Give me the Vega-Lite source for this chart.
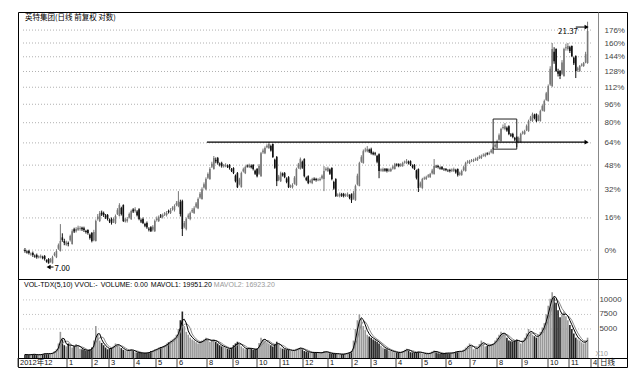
{
"$schema":"https://vega.github.io/schema/vega-lite/v6.json",
"padding":{"left":17,"top":11,"right":0,"bottom":0},
"background":"white",
"spacing":0,
"bounds":"flush",
"datasets":{
"k":[
{"t":2,"o":7.45,"h":7.52,"l":7.36,"c":7.42,"v":600},
{"t":6,"o":7.42,"h":7.46,"l":7.30,"c":7.35,"v":500},
{"t":10,"o":7.35,"h":7.40,"l":7.22,"c":7.28,"v":700},
{"t":14,"o":7.28,"h":7.33,"l":7.16,"c":7.21,"v":500},
{"t":18,"o":7.21,"h":7.30,"l":7.17,"c":7.25,"v":600},
{"t":22,"o":7.25,"h":7.28,"l":7.10,"c":7.15,"v":800},
{"t":26,"o":7.15,"h":7.18,"l":7.00,"c":7.01,"v":700},
{"t":30,"o":7.01,"h":7.26,"l":7.00,"c":7.21,"v":900},
{"t":34,"o":7.21,"h":7.48,"l":7.18,"c":7.42,"v":1500},
{"t":38,"o":7.42,"h":8.40,"l":7.40,"c":7.77,"v":4500},
{"t":42,"o":7.77,"h":7.85,"l":7.62,"c":7.70,"v":2200},
{"t":46,"o":7.70,"h":7.75,"l":7.58,"c":7.66,"v":2500},
{"t":50,"o":7.66,"h":8.20,"l":7.64,"c":8.13,"v":1800},
{"t":54,"o":8.13,"h":8.28,"l":8.08,"c":8.21,"v":2400},
{"t":58,"o":8.21,"h":8.32,"l":8.15,"c":8.24,"v":1600},
{"t":62,"o":8.24,"h":8.30,"l":8.10,"c":8.17,"v":1400},
{"t":66,"o":8.17,"h":8.20,"l":8.00,"c":8.06,"v":1200},
{"t":70,"o":8.06,"h":8.10,"l":7.72,"c":7.77,"v":1800},
{"t":74,"o":7.77,"h":8.58,"l":7.75,"c":8.52,"v":5500},
{"t":78,"o":8.52,"h":8.92,"l":8.48,"c":8.84,"v":3000},
{"t":82,"o":8.84,"h":8.90,"l":8.68,"c":8.76,"v":2200},
{"t":86,"o":8.76,"h":8.80,"l":8.54,"c":8.60,"v":1500},
{"t":90,"o":8.60,"h":8.66,"l":8.38,"c":8.44,"v":1800},
{"t":94,"o":8.44,"h":8.78,"l":8.40,"c":8.72,"v":2500},
{"t":98,"o":8.72,"h":9.25,"l":8.70,"c":9.17,"v":2000},
{"t":102,"o":9.17,"h":9.20,"l":8.48,"c":8.52,"v":1400},
{"t":106,"o":8.52,"h":8.68,"l":8.46,"c":8.60,"v":1200},
{"t":110,"o":8.60,"h":8.98,"l":8.56,"c":8.92,"v":1500},
{"t":114,"o":8.92,"h":9.08,"l":8.86,"c":9.00,"v":1000},
{"t":118,"o":9.00,"h":9.04,"l":8.55,"c":8.60,"v":900},
{"t":122,"o":8.60,"h":8.66,"l":8.40,"c":8.44,"v":800},
{"t":126,"o":8.44,"h":8.50,"l":8.22,"c":8.28,"v":900},
{"t":130,"o":8.28,"h":8.32,"l":8.10,"c":8.13,"v":1200},
{"t":134,"o":8.13,"h":8.58,"l":8.10,"c":8.52,"v":1500},
{"t":138,"o":8.52,"h":8.74,"l":8.48,"c":8.68,"v":1800},
{"t":142,"o":8.68,"h":8.82,"l":8.62,"c":8.76,"v":2000},
{"t":146,"o":8.76,"h":8.92,"l":8.70,"c":8.84,"v":2500},
{"t":150,"o":8.84,"h":9.04,"l":8.80,"c":8.96,"v":3000},
{"t":154,"o":8.96,"h":9.20,"l":8.90,"c":9.13,"v":3500},
{"t":158,"o":9.13,"h":9.78,"l":9.08,"c":9.34,"v":5000},
{"t":162,"o":9.34,"h":9.40,"l":7.95,"c":8.21,"v":8000},
{"t":166,"o":8.21,"h":8.66,"l":8.16,"c":8.60,"v":4500},
{"t":170,"o":8.60,"h":8.90,"l":8.55,"c":8.84,"v":3500},
{"t":174,"o":8.84,"h":9.12,"l":8.80,"c":9.04,"v":3000},
{"t":178,"o":9.04,"h":9.50,"l":9.00,"c":9.43,"v":2500},
{"t":182,"o":9.43,"h":9.95,"l":9.40,"c":9.87,"v":3000},
{"t":186,"o":9.87,"h":10.42,"l":9.82,"c":10.34,"v":3500},
{"t":190,"o":10.34,"h":10.92,"l":10.30,"c":10.83,"v":2800},
{"t":194,"o":10.83,"h":11.50,"l":10.80,"c":11.39,"v":3200},
{"t":198,"o":11.39,"h":11.45,"l":11.05,"c":11.13,"v":2500},
{"t":202,"o":11.13,"h":11.20,"l":10.90,"c":10.98,"v":2000},
{"t":206,"o":10.98,"h":11.12,"l":10.92,"c":11.03,"v":1800},
{"t":210,"o":11.03,"h":11.08,"l":10.80,"c":10.88,"v":1500},
{"t":214,"o":10.88,"h":10.92,"l":10.58,"c":10.63,"v":2200},
{"t":218,"o":10.63,"h":10.68,"l":9.92,"c":9.96,"v":2800},
{"t":222,"o":9.96,"h":10.70,"l":9.94,"c":10.63,"v":2000},
{"t":226,"o":10.63,"h":11.00,"l":10.58,"c":10.93,"v":1500},
{"t":230,"o":10.93,"h":11.10,"l":10.88,"c":11.03,"v":1800},
{"t":234,"o":11.03,"h":11.08,"l":10.76,"c":10.83,"v":1400},
{"t":238,"o":10.83,"h":10.88,"l":10.42,"c":10.48,"v":1600},
{"t":242,"o":10.48,"h":11.72,"l":10.45,"c":11.65,"v":3500},
{"t":246,"o":11.65,"h":12.02,"l":11.60,"c":11.93,"v":3000},
{"t":250,"o":11.93,"h":12.26,"l":11.88,"c":12.15,"v":2500},
{"t":254,"o":12.15,"h":12.18,"l":11.40,"c":11.45,"v":2000},
{"t":258,"o":11.45,"h":11.50,"l":10.01,"c":10.24,"v":2800},
{"t":262,"o":10.24,"h":10.70,"l":10.20,"c":10.63,"v":1800},
{"t":266,"o":10.63,"h":10.68,"l":10.38,"c":10.43,"v":1500},
{"t":270,"o":10.43,"h":10.48,"l":9.92,"c":9.96,"v":1400},
{"t":274,"o":9.96,"h":10.14,"l":9.90,"c":10.06,"v":1200},
{"t":278,"o":10.06,"h":10.90,"l":10.02,"c":10.83,"v":1600},
{"t":282,"o":10.83,"h":11.42,"l":10.80,"c":11.34,"v":1800},
{"t":286,"o":11.34,"h":11.38,"l":10.42,"c":10.48,"v":1200},
{"t":290,"o":10.48,"h":10.52,"l":10.10,"c":10.15,"v":1000},
{"t":294,"o":10.15,"h":10.40,"l":10.10,"c":10.34,"v":900},
{"t":298,"o":10.34,"h":10.40,"l":10.22,"c":10.29,"v":1000},
{"t":302,"o":10.29,"h":10.42,"l":10.24,"c":10.34,"v":800},
{"t":306,"o":10.34,"h":10.98,"l":9.78,"c":10.73,"v":1200},
{"t":310,"o":10.73,"h":10.95,"l":10.68,"c":10.88,"v":900},
{"t":314,"o":10.88,"h":10.92,"l":10.28,"c":10.34,"v":700},
{"t":318,"o":10.34,"h":10.38,"l":9.52,"c":9.56,"v":800},
{"t":322,"o":9.56,"h":9.72,"l":9.50,"c":9.65,"v":600},
{"t":326,"o":9.65,"h":9.70,"l":9.50,"c":9.56,"v":700},
{"t":330,"o":9.56,"h":9.72,"l":9.52,"c":9.65,"v":900},
{"t":334,"o":9.65,"h":9.68,"l":9.26,"c":9.38,"v":1200},
{"t":338,"o":9.38,"h":10.08,"l":9.35,"c":10.01,"v":5000},
{"t":342,"o":10.01,"h":11.20,"l":10.00,"c":11.13,"v":7500},
{"t":346,"o":11.13,"h":11.85,"l":11.10,"c":11.76,"v":5500},
{"t":350,"o":11.76,"h":12.04,"l":11.70,"c":11.87,"v":4000},
{"t":354,"o":11.87,"h":11.95,"l":11.58,"c":11.65,"v":3500},
{"t":358,"o":11.65,"h":11.72,"l":11.52,"c":11.60,"v":3000},
{"t":362,"o":11.60,"h":11.64,"l":10.38,"c":10.73,"v":2500},
{"t":366,"o":10.73,"h":10.90,"l":10.68,"c":10.83,"v":1800},
{"t":370,"o":10.83,"h":10.88,"l":10.66,"c":10.73,"v":1500},
{"t":374,"o":10.73,"h":10.90,"l":10.68,"c":10.83,"v":1200},
{"t":378,"o":10.83,"h":11.14,"l":10.80,"c":11.08,"v":1000},
{"t":382,"o":11.08,"h":11.12,"l":10.92,"c":10.98,"v":900},
{"t":386,"o":10.98,"h":11.20,"l":10.94,"c":11.13,"v":1200},
{"t":390,"o":11.13,"h":11.34,"l":11.08,"c":11.23,"v":1600},
{"t":394,"o":11.23,"h":11.27,"l":10.98,"c":11.03,"v":1000},
{"t":398,"o":11.03,"h":11.08,"l":10.78,"c":10.83,"v":900},
{"t":402,"o":10.83,"h":10.86,"l":9.74,"c":9.92,"v":1100},
{"t":406,"o":9.92,"h":10.40,"l":9.88,"c":10.34,"v":800},
{"t":410,"o":10.34,"h":10.50,"l":10.30,"c":10.43,"v":700},
{"t":414,"o":10.43,"h":10.64,"l":10.40,"c":10.58,"v":900},
{"t":418,"o":10.58,"h":11.34,"l":10.55,"c":10.98,"v":1300},
{"t":422,"o":10.98,"h":11.04,"l":10.86,"c":10.93,"v":800},
{"t":426,"o":10.93,"h":10.98,"l":10.78,"c":10.83,"v":700},
{"t":430,"o":10.83,"h":10.88,"l":10.72,"c":10.78,"v":900},
{"t":434,"o":10.78,"h":10.84,"l":10.66,"c":10.73,"v":800},
{"t":438,"o":10.73,"h":10.90,"l":10.68,"c":10.83,"v":1000},
{"t":442,"o":10.83,"h":10.86,"l":10.46,"c":10.53,"v":1200},
{"t":446,"o":10.53,"h":10.80,"l":10.50,"c":10.73,"v":1100},
{"t":450,"o":10.73,"h":11.20,"l":10.70,"c":11.13,"v":1800},
{"t":454,"o":11.13,"h":11.30,"l":11.08,"c":11.23,"v":2500},
{"t":458,"o":11.23,"h":11.36,"l":11.18,"c":11.28,"v":1500},
{"t":462,"o":11.28,"h":11.46,"l":11.24,"c":11.39,"v":1800},
{"t":466,"o":11.39,"h":11.58,"l":11.34,"c":11.50,"v":3000},
{"t":470,"o":11.50,"h":11.68,"l":11.44,"c":11.60,"v":2000},
{"t":474,"o":11.60,"h":11.74,"l":11.55,"c":11.65,"v":2200},
{"t":478,"o":11.65,"h":12.00,"l":11.60,"c":11.93,"v":2500},
{"t":482,"o":11.93,"h":12.40,"l":11.90,"c":12.32,"v":3500},
{"t":486,"o":12.32,"h":13.10,"l":12.28,"c":13.02,"v":4500},
{"t":490,"o":13.02,"h":13.39,"l":12.95,"c":13.20,"v":4000},
{"t":494,"o":13.20,"h":13.25,"l":12.66,"c":12.73,"v":3000},
{"t":498,"o":12.73,"h":12.80,"l":12.48,"c":12.55,"v":2800},
{"t":502,"o":12.55,"h":12.60,"l":11.98,"c":12.26,"v":3200},
{"t":506,"o":12.26,"h":12.80,"l":12.22,"c":12.73,"v":2500},
{"t":510,"o":12.73,"h":12.98,"l":12.68,"c":12.90,"v":3500},
{"t":514,"o":12.90,"h":13.60,"l":12.86,"c":13.51,"v":5000},
{"t":518,"o":13.51,"h":14.05,"l":13.46,"c":13.96,"v":4000},
{"t":522,"o":13.96,"h":14.00,"l":13.44,"c":13.51,"v":3500},
{"t":526,"o":13.51,"h":14.24,"l":13.48,"c":14.15,"v":4500},
{"t":530,"o":14.15,"h":14.92,"l":14.10,"c":14.82,"v":6000},
{"t":534,"o":14.82,"h":16.00,"l":14.78,"c":15.88,"v":9000},
{"t":538,"o":15.88,"h":19.37,"l":15.80,"c":18.84,"v":11300},
{"t":542,"o":18.84,"h":18.90,"l":16.95,"c":17.02,"v":9500},
{"t":546,"o":17.02,"h":17.10,"l":16.40,"c":16.63,"v":7000},
{"t":550,"o":16.63,"h":18.95,"l":16.58,"c":18.84,"v":8000},
{"t":554,"o":18.84,"h":19.37,"l":18.70,"c":19.10,"v":6500},
{"t":558,"o":19.10,"h":19.15,"l":18.15,"c":18.24,"v":5000},
{"t":562,"o":18.24,"h":18.30,"l":16.48,"c":17.02,"v":3500},
{"t":566,"o":17.02,"h":17.50,"l":16.95,"c":17.42,"v":3000},
{"t":570,"o":17.42,"h":17.75,"l":17.35,"c":17.66,"v":2500},
{"t":574,"o":17.66,"h":21.37,"l":17.60,"c":20.47,"v":3500},
{"t":4,"o":7.40,"h":7.44,"l":7.33,"c":7.37,"v":550},
{"t":8,"o":7.30,"h":7.37,"l":7.26,"c":7.33,"v":650},
{"t":12,"o":7.26,"h":7.30,"l":7.19,"c":7.23,"v":550},
{"t":16,"o":7.20,"h":7.27,"l":7.17,"c":7.24,"v":600},
{"t":20,"o":7.22,"h":7.26,"l":7.14,"c":7.18,"v":700},
{"t":24,"o":7.12,"h":7.14,"l":7.03,"c":7.06,"v":750},
{"t":28,"o":7.06,"h":7.18,"l":7.03,"c":7.14,"v":800},
{"t":32,"o":7.28,"h":7.38,"l":7.24,"c":7.33,"v":1200},
{"t":36,"o":7.50,"h":7.68,"l":7.46,"c":7.62,"v":2500},
{"t":40,"o":7.90,"h":8.05,"l":7.74,"c":7.80,"v":3200},
{"t":44,"o":7.64,"h":7.78,"l":7.60,"c":7.72,"v":2000},
{"t":48,"o":7.80,"h":8.00,"l":7.75,"c":7.95,"v":2200},
{"t":52,"o":8.20,"h":8.26,"l":8.06,"c":8.12,"v":2000},
{"t":56,"o":8.18,"h":8.34,"l":8.14,"c":8.26,"v":2000},
{"t":60,"o":8.26,"h":8.30,"l":8.14,"c":8.20,"v":1500},
{"t":64,"o":8.14,"h":8.18,"l":8.04,"c":8.10,"v":1300},
{"t":68,"o":8.00,"h":8.04,"l":7.82,"c":7.88,"v":1500},
{"t":72,"o":7.80,"h":8.18,"l":7.76,"c":8.10,"v":3000},
{"t":76,"o":8.60,"h":8.80,"l":8.54,"c":8.70,"v":4000},
{"t":80,"o":8.86,"h":8.94,"l":8.72,"c":8.78,"v":2600},
{"t":84,"o":8.74,"h":8.80,"l":8.60,"c":8.66,"v":1800},
{"t":88,"o":8.56,"h":8.62,"l":8.44,"c":8.50,"v":1600},
{"t":92,"o":8.50,"h":8.66,"l":8.44,"c":8.60,"v":2100},
{"t":96,"o":8.80,"h":9.04,"l":8.76,"c":8.96,"v":2300},
{"t":100,"o":9.05,"h":9.10,"l":8.74,"c":8.80,"v":1700},
{"t":104,"o":8.50,"h":8.64,"l":8.46,"c":8.58,"v":1300},
{"t":108,"o":8.66,"h":8.86,"l":8.62,"c":8.80,"v":1400},
{"t":112,"o":8.98,"h":9.04,"l":8.84,"c":8.90,"v":1200},
{"t":116,"o":8.90,"h":8.96,"l":8.70,"c":8.75,"v":950},
{"t":120,"o":8.55,"h":8.62,"l":8.44,"c":8.50,"v":850},
{"t":124,"o":8.40,"h":8.45,"l":8.28,"c":8.34,"v":850},
{"t":128,"o":8.22,"h":8.28,"l":8.12,"c":8.18,"v":1000},
{"t":132,"o":8.18,"h":8.36,"l":8.12,"c":8.30,"v":1300},
{"t":136,"o":8.56,"h":8.70,"l":8.50,"c":8.62,"v":1600},
{"t":140,"o":8.74,"h":8.80,"l":8.64,"c":8.70,"v":1900},
{"t":144,"o":8.78,"h":8.88,"l":8.72,"c":8.82,"v":2200},
{"t":148,"o":8.92,"h":8.98,"l":8.82,"c":8.88,"v":2700},
{"t":152,"o":9.00,"h":9.12,"l":8.94,"c":9.06,"v":3200},
{"t":156,"o":9.18,"h":9.34,"l":9.12,"c":9.26,"v":4000},
{"t":160,"o":9.30,"h":9.40,"l":8.70,"c":8.80,"v":6500},
{"t":164,"o":8.30,"h":8.52,"l":8.24,"c":8.44,"v":5500},
{"t":168,"o":8.66,"h":8.82,"l":8.60,"c":8.74,"v":4000},
{"t":172,"o":8.90,"h":9.04,"l":8.84,"c":8.96,"v":3200},
{"t":176,"o":9.10,"h":9.30,"l":9.04,"c":9.24,"v":2700},
{"t":180,"o":9.50,"h":9.74,"l":9.44,"c":9.66,"v":2800},
{"t":184,"o":9.95,"h":10.18,"l":9.90,"c":10.10,"v":3200},
{"t":188,"o":10.40,"h":10.66,"l":10.34,"c":10.58,"v":3100},
{"t":192,"o":10.95,"h":11.20,"l":10.88,"c":11.10,"v":3000},
{"t":196,"o":11.30,"h":11.42,"l":11.12,"c":11.22,"v":2800},
{"t":200,"o":11.10,"h":11.16,"l":10.96,"c":11.05,"v":2200},
{"t":204,"o":10.96,"h":11.08,"l":10.90,"c":11.02,"v":1900},
{"t":208,"o":11.00,"h":11.06,"l":10.88,"c":10.94,"v":1600},
{"t":212,"o":10.82,"h":10.88,"l":10.68,"c":10.74,"v":1800},
{"t":216,"o":10.50,"h":10.56,"l":10.18,"c":10.24,"v":2500},
{"t":220,"o":10.10,"h":10.40,"l":10.04,"c":10.32,"v":2400},
{"t":224,"o":10.72,"h":10.90,"l":10.66,"c":10.82,"v":1700},
{"t":228,"o":11.00,"h":11.06,"l":10.90,"c":10.96,"v":1600},
{"t":232,"o":11.00,"h":11.06,"l":10.86,"c":10.92,"v":1600},
{"t":236,"o":10.74,"h":10.80,"l":10.54,"c":10.60,"v":1500},
{"t":240,"o":10.60,"h":11.08,"l":10.54,"c":11.00,"v":2600},
{"t":244,"o":11.70,"h":11.90,"l":11.62,"c":11.80,"v":3200},
{"t":248,"o":11.98,"h":12.14,"l":11.92,"c":12.06,"v":2700},
{"t":252,"o":12.05,"h":12.12,"l":11.74,"c":11.80,"v":2200},
{"t":256,"o":11.30,"h":11.36,"l":10.84,"c":10.90,"v":2400},
{"t":260,"o":10.30,"h":10.54,"l":10.24,"c":10.46,"v":2300},
{"t":264,"o":10.60,"h":10.66,"l":10.46,"c":10.52,"v":1600},
{"t":268,"o":10.36,"h":10.42,"l":10.14,"c":10.20,"v":1450},
{"t":272,"o":9.98,"h":10.08,"l":9.92,"c":10.02,"v":1300},
{"t":276,"o":10.12,"h":10.48,"l":10.08,"c":10.40,"v":1400},
{"t":280,"o":10.90,"h":11.14,"l":10.84,"c":11.06,"v":1700},
{"t":284,"o":11.20,"h":11.26,"l":10.84,"c":10.90,"v":1500},
{"t":288,"o":10.40,"h":10.46,"l":10.24,"c":10.30,"v":1100},
{"t":292,"o":10.20,"h":10.32,"l":10.14,"c":10.26,"v":950},
{"t":296,"o":10.36,"h":10.42,"l":10.26,"c":10.30,"v":950},
{"t":300,"o":10.28,"h":10.38,"l":10.24,"c":10.32,"v":900},
{"t":304,"o":10.38,"h":10.56,"l":10.32,"c":10.50,"v":1000},
{"t":308,"o":10.78,"h":10.92,"l":10.72,"c":10.84,"v":1050},
{"t":312,"o":10.80,"h":10.86,"l":10.54,"c":10.60,"v":800},
{"t":316,"o":10.20,"h":10.26,"l":9.84,"c":9.90,"v":750},
{"t":320,"o":9.58,"h":9.68,"l":9.52,"c":9.62,"v":700},
{"t":324,"o":9.64,"h":9.70,"l":9.52,"c":9.58,"v":650},
{"t":328,"o":9.58,"h":9.68,"l":9.52,"c":9.62,"v":800},
{"t":332,"o":9.60,"h":9.64,"l":9.42,"c":9.48,"v":1000},
{"t":336,"o":9.45,"h":9.78,"l":9.40,"c":9.70,"v":3000},
{"t":340,"o":10.10,"h":10.60,"l":10.04,"c":10.50,"v":6500},
{"t":344,"o":11.20,"h":11.54,"l":11.14,"c":11.44,"v":6800},
{"t":348,"o":11.80,"h":11.95,"l":11.70,"c":11.84,"v":4800},
{"t":352,"o":11.84,"h":11.90,"l":11.66,"c":11.74,"v":3700},
{"t":356,"o":11.68,"h":11.74,"l":11.54,"c":11.60,"v":3200},
{"t":360,"o":11.50,"h":11.56,"l":11.12,"c":11.20,"v":2800},
{"t":364,"o":10.76,"h":10.86,"l":10.70,"c":10.80,"v":2100},
{"t":368,"o":10.82,"h":10.88,"l":10.70,"c":10.76,"v":1600},
{"t":372,"o":10.74,"h":10.86,"l":10.68,"c":10.80,"v":1300},
{"t":376,"o":10.86,"h":11.02,"l":10.80,"c":10.96,"v":1100},
{"t":380,"o":11.06,"h":11.12,"l":10.96,"c":11.02,"v":950},
{"t":384,"o":11.00,"h":11.12,"l":10.94,"c":11.06,"v":1000},
{"t":388,"o":11.16,"h":11.26,"l":11.10,"c":11.20,"v":1400},
{"t":392,"o":11.20,"h":11.26,"l":11.06,"c":11.12,"v":1300},
{"t":396,"o":11.00,"h":11.06,"l":10.86,"c":10.92,"v":950},
{"t":400,"o":10.76,"h":10.80,"l":10.32,"c":10.40,"v":1000},
{"t":404,"o":10.00,"h":10.22,"l":9.94,"c":10.14,"v":950},
{"t":408,"o":10.36,"h":10.46,"l":10.30,"c":10.40,"v":750},
{"t":412,"o":10.46,"h":10.58,"l":10.40,"c":10.52,"v":800},
{"t":416,"o":10.62,"h":10.84,"l":10.56,"c":10.76,"v":1100},
{"t":420,"o":10.96,"h":11.04,"l":10.88,"c":10.94,"v":1000},
{"t":424,"o":10.90,"h":10.96,"l":10.80,"c":10.86,"v":750},
{"t":428,"o":10.82,"h":10.88,"l":10.74,"c":10.80,"v":800},
{"t":432,"o":10.76,"h":10.82,"l":10.68,"c":10.74,"v":850},
{"t":436,"o":10.74,"h":10.86,"l":10.68,"c":10.80,"v":900},
{"t":440,"o":10.78,"h":10.84,"l":10.60,"c":10.66,"v":1100},
{"t":444,"o":10.56,"h":10.70,"l":10.50,"c":10.64,"v":1150},
{"t":448,"o":10.78,"h":11.00,"l":10.72,"c":10.92,"v":1450},
{"t":452,"o":11.16,"h":11.28,"l":11.10,"c":11.20,"v":2100},
{"t":456,"o":11.24,"h":11.34,"l":11.18,"c":11.26,"v":2000},
{"t":460,"o":11.30,"h":11.42,"l":11.24,"c":11.34,"v":1650},
{"t":464,"o":11.40,"h":11.54,"l":11.34,"c":11.46,"v":2400},
{"t":468,"o":11.52,"h":11.64,"l":11.46,"c":11.56,"v":2500},
{"t":472,"o":11.64,"h":11.70,"l":11.54,"c":11.60,"v":2100},
{"t":476,"o":11.70,"h":11.88,"l":11.64,"c":11.80,"v":2350},
{"t":480,"o":12.00,"h":12.20,"l":11.94,"c":12.12,"v":3000},
{"t":484,"o":12.40,"h":12.76,"l":12.34,"c":12.66,"v":4000},
{"t":488,"o":13.08,"h":13.30,"l":13.00,"c":13.14,"v":4250},
{"t":492,"o":13.10,"h":13.18,"l":12.86,"c":12.94,"v":3500},
{"t":496,"o":12.70,"h":12.78,"l":12.56,"c":12.62,"v":2900},
{"t":500,"o":12.50,"h":12.56,"l":12.32,"c":12.40,"v":3000},
{"t":504,"o":12.30,"h":12.58,"l":12.24,"c":12.50,"v":2850},
{"t":508,"o":12.76,"h":12.92,"l":12.70,"c":12.84,"v":3000},
{"t":512,"o":12.96,"h":13.30,"l":12.90,"c":13.20,"v":4250},
{"t":516,"o":13.56,"h":13.84,"l":13.50,"c":13.74,"v":4500},
{"t":520,"o":13.90,"h":13.98,"l":13.62,"c":13.70,"v":3750},
{"t":524,"o":13.56,"h":13.92,"l":13.50,"c":13.84,"v":4000},
{"t":528,"o":14.20,"h":14.58,"l":14.14,"c":14.48,"v":5250},
{"t":532,"o":14.90,"h":15.46,"l":14.84,"c":15.36,"v":7500},
{"t":536,"o":16.00,"h":17.40,"l":15.90,"c":17.20,"v":10200},
{"t":540,"o":18.60,"h":19.00,"l":17.60,"c":17.80,"v":10400},
{"t":544,"o":17.00,"h":17.20,"l":16.60,"c":16.80,"v":8200},
{"t":548,"o":16.80,"h":17.90,"l":16.70,"c":17.70,"v":7500},
{"t":552,"o":18.90,"h":19.30,"l":18.70,"c":19.00,"v":7200},
{"t":556,"o":19.00,"h":19.12,"l":18.50,"c":18.66,"v":5700},
{"t":560,"o":18.10,"h":18.20,"l":17.50,"c":17.64,"v":4200},
{"t":564,"o":17.10,"h":17.36,"l":16.96,"c":17.24,"v":3200},
{"t":568,"o":17.46,"h":17.64,"l":17.38,"c":17.54,"v":2700},
{"t":572,"o":17.70,"h":18.60,"l":17.64,"c":18.40,"v":3000}
],
"pgrid":[{"p":7.45},{"p":8.642},{"p":9.834},{"p":11.026},{"p":12.218},{"p":13.41},{"p":14.602},{"p":15.794},{"p":16.986},{"p":18.178},{"p":19.37},{"p":20.562}],
"vgrid":[{"v":5000,"s":"5000"},{"v":7500,"s":"7500"},{"v":10000,"s":"10000"}],
"months":[
{"t":0,"m":"2012年12"},{"t":49,"m":"1"},{"t":74,"m":"2"},{"t":91,"m":"3"},{"t":116,"m":"4"},{"t":138,"m":"5"},{"t":159,"m":"6"},{"t":189,"m":"8"},{"t":215,"m":"9"},{"t":239,"m":"10"},{"t":262,"m":"11"},{"t":285,"m":"12"},
{"t":310,"m":"1"},{"t":334,"m":"2"},{"t":353,"m":"3"},{"t":378,"m":"4"},{"t":404,"m":"5"},{"t":428,"m":"6"},{"t":452,"m":"7"},{"t":479,"m":"8"},{"t":504,"m":"9"},{"t":530,"m":"10"},{"t":551,"m":"11"},{"t":573,"m":"4"},{"t":580,"m":" 日线"}
]
},
"vconcat":[
{
"width":609,"height":267,
"layer":[
{"data":{"name":"pgrid"},"mark":{"type":"rule","color":"#b0b0b0","strokeDash":[1,2],"strokeWidth":1},
 "encoding":{
  "x":{"datum":0,"type":"quantitative","scale":{"domain":[0,609]},"axis":null},
  "x2":{"datum":578},
  "y":{"field":"p","type":"quantitative","scale":{"type":"log","domain":[6.52,22.35],"nice":false,"zero":false},
   "axis":{"orient":"right","offset":-29,"values":[7.45,8.642,9.834,11.026,12.218,13.41,14.602,15.794,16.986,18.178,19.37,20.562],"labelExpr":"format(datum.value/7.45-1,'.0%')","ticks":false,"grid":false,"domainColor":"#888","labelPadding":6,"labelFontSize":8,"labelColor":"#444","labelFont":"Liberation Sans","labelOverlap":false,"title":null}}}},
{"data":{"name":"k"},"mark":{"type":"rule","strokeWidth":1},
 "encoding":{
  "x":{"field":"t","type":"quantitative","scale":{"domain":[0,609]},"axis":null},
  "y":{"field":"l","type":"quantitative","scale":{"type":"log","domain":[6.52,22.35],"nice":false,"zero":false}},
  "y2":{"field":"h"},
  "color":{"condition":{"test":"datum.c>=datum.o","value":"#777"},"value":"#111"}}},
{"data":{"name":"k"},"mark":{"type":"bar","size":1.6},
 "encoding":{
  "x":{"field":"t","type":"quantitative","scale":{"domain":[0,609]},"axis":null},
  "y":{"field":"o","type":"quantitative","scale":{"type":"log","domain":[6.52,22.35],"nice":false,"zero":false}},
  "y2":{"field":"c"},
  "color":{"condition":{"test":"datum.c>=datum.o","value":"#777"},"value":"#111"}}},
{"data":{"values":[{"t":187,"t2":572,"p":12.26}]},"mark":{"type":"rule","color":"#000","strokeWidth":1.2},
 "encoding":{
  "x":{"field":"t","type":"quantitative","scale":{"domain":[0,609]},"axis":null},
  "x2":{"field":"t2"},
  "y":{"field":"p","type":"quantitative","scale":{"type":"log","domain":[6.52,22.35],"nice":false,"zero":false}}}},
{"data":{"values":[{"t":573,"p":12.26,"s":"triangle-right"},{"t":573,"p":20.85,"s":"triangle-right"},{"t":26,"p":6.89,"s":"triangle-left"}]},"mark":{"type":"point","filled":true,"color":"#000","size":22,"opacity":1},
 "encoding":{
  "x":{"field":"t","type":"quantitative","scale":{"domain":[0,609]},"axis":null},
  "y":{"field":"p","type":"quantitative","scale":{"type":"log","domain":[6.52,22.35],"nice":false,"zero":false}},
  "shape":{"field":"s","type":"nominal","scale":null}}},
{"data":{"values":[{"t":562,"t2":572,"p":20.85},{"t":27,"t2":31,"p":6.89}]},"mark":{"type":"rule","color":"#000","strokeWidth":1},
 "encoding":{
  "x":{"field":"t","type":"quantitative","scale":{"domain":[0,609]},"axis":null},
  "x2":{"field":"t2"},
  "y":{"field":"p","type":"quantitative","scale":{"type":"log","domain":[6.52,22.35],"nice":false,"zero":false}}}},
{"data":{"values":[{"t":478,"t2":502,"p":11.87,"p2":13.64}]},"mark":{"type":"rect","filled":false,"stroke":"#222","strokeWidth":1},
 "encoding":{
  "x":{"field":"t","type":"quantitative","scale":{"domain":[0,609]},"axis":null},
  "x2":{"field":"t2"},
  "y":{"field":"p","type":"quantitative","scale":{"type":"log","domain":[6.52,22.35],"nice":false,"zero":false}},
  "y2":{"field":"p2"}}},
{"data":{"values":[{"t":2,"p":21.73,"s":"英特集团(日线 前复权 对数)","f":7.5},{"t":32,"p":6.83,"s":"7.00","f":8},{"t":544,"p":20.4,"s":"21.37","f":8}]},
 "mark":{"type":"text","align":"left","baseline":"middle","font":"Noto Sans CJK SC","color":"#000"},
 "encoding":{
  "x":{"field":"t","type":"quantitative","scale":{"domain":[0,609]},"axis":null},
  "y":{"field":"p","type":"quantitative","scale":{"type":"log","domain":[6.52,22.35],"nice":false,"zero":false}},
  "text":{"field":"s"},
  "size":{"field":"f","type":"quantitative","scale":null}}}
]
},
{
"width":609,"height":79,
"layer":[
{"data":{"name":"vgrid"},"mark":{"type":"rule","color":"#c0c0c0","strokeDash":[1,2],"strokeWidth":1},
 "encoding":{
  "x":{"datum":0,"type":"quantitative","scale":{"domain":[0,609]},"axis":null},
  "x2":{"datum":578},
  "y":{"field":"v","type":"quantitative","scale":{"domain":[0,13600],"nice":false},
   "axis":{"orient":"right","offset":-29,"values":[5000,7500,10000],"labels":false,"ticks":false,"grid":false,"domainColor":"#888","title":null}}}},
{"data":{"name":"vgrid"},"mark":{"type":"text","align":"left","baseline":"middle","fontSize":8,"font":"Liberation Sans","color":"#444"},
 "encoding":{
  "x":{"datum":586,"type":"quantitative","scale":{"domain":[0,609]},"axis":null},
  "y":{"field":"v","type":"quantitative","scale":{"domain":[0,13600],"nice":false}},
  "text":{"field":"s"}}},
{"data":{"name":"k"},"mark":{"type":"bar","size":1.6},
 "encoding":{
  "x":{"field":"t","type":"quantitative","scale":{"domain":[0,609]},"axis":null},
  "y":{"field":"v","type":"quantitative","scale":{"domain":[0,13600],"nice":false}},
  "color":{"condition":{"test":"datum.c>=datum.o","value":"#999"},"value":"#222"}}},
{"data":{"name":"k"},"transform":[{"window":[{"op":"mean","field":"v","as":"m2"}],"frame":[-4,0],"sort":[{"field":"t"}]}],
 "mark":{"type":"line","color":"#888","strokeWidth":1},
 "encoding":{
  "x":{"field":"t","type":"quantitative","scale":{"domain":[0,609]},"axis":null},
  "y":{"field":"m2","type":"quantitative","scale":{"domain":[0,13600],"nice":false}}}},
{"data":{"name":"k"},"transform":[{"window":[{"op":"mean","field":"v","as":"m1"}],"frame":[-2,0],"sort":[{"field":"t"}]}],
 "mark":{"type":"line","color":"#000","strokeWidth":1},
 "encoding":{
  "x":{"field":"t","type":"quantitative","scale":{"domain":[0,609]},"axis":null},
  "y":{"field":"m1","type":"quantitative","scale":{"domain":[0,13600],"nice":false}}}},
{"data":{"values":[{"t":1,"v":12550,"s":"VOL-TDX(5,10) VVOL:-","g":0},{"t":79,"v":12550,"s":"VOLUME: 0.00","g":0},{"t":130,"v":12550,"s":"MAVOL1: 19951.20","g":0},{"t":194,"v":12550,"s":"MAVOL2: 16923.20","g":1},{"t":582,"v":700,"s":"X10","g":1}]},
 "mark":{"type":"text","align":"left","baseline":"middle","font":"Liberation Sans","fontSize":7},
 "encoding":{
  "x":{"field":"t","type":"quantitative","scale":{"domain":[0,609]},"axis":null},
  "y":{"field":"v","type":"quantitative","scale":{"domain":[0,13600],"nice":false}},
  "text":{"field":"s"},
  "color":{"condition":{"test":"datum.g==1","value":"#999"},"value":"#000"}}}
]
},
{
"width":609,"height":9,
"data":{"name":"months"},
"layer":[
{"mark":{"type":"rule","color":"#444","strokeWidth":1},
 "encoding":{"x":{"field":"t","type":"quantitative","scale":{"domain":[0,609]},"axis":null}}},
{"mark":{"type":"text","align":"left","dx":2,"baseline":"middle","fontSize":7.5,"font":"Liberation Sans, Noto Sans CJK SC","color":"#111"},
 "encoding":{"x":{"field":"t","type":"quantitative","scale":{"domain":[0,609]},"axis":null},"text":{"field":"m"}}}
]
}
],
"config":{"view":{"stroke":"#000","strokeWidth":1},"font":"Liberation Sans","axis":{"labelOverlap":false}}
}
